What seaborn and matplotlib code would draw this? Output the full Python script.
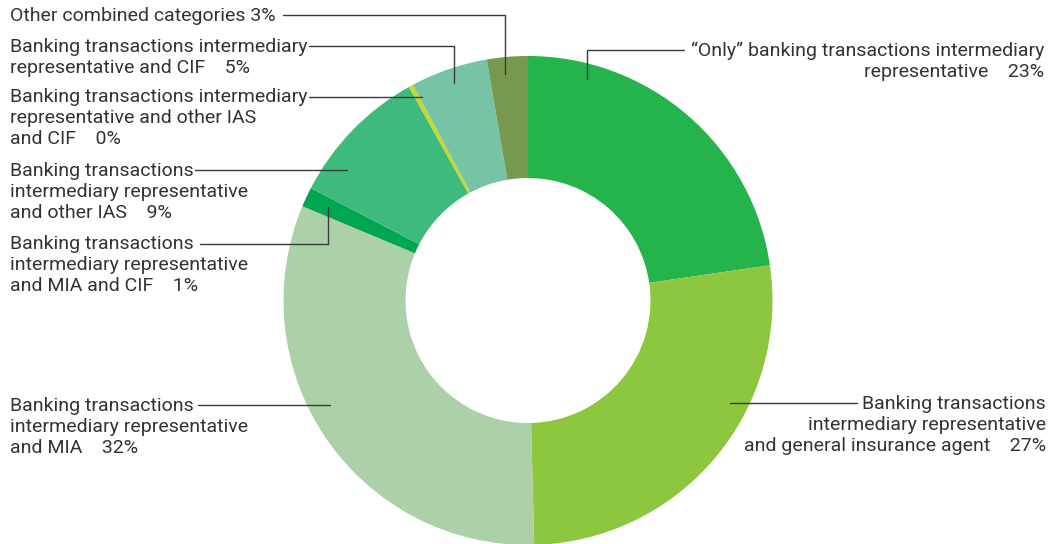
import matplotlib
matplotlib.use("Agg")
import matplotlib.pyplot as plt
import seaborn as sns

categories = [
    "Only BTIR",
    "BTIR + general insurance agent",
    "BTIR + MIA",
    "BTIR + MIA + CIF",
    "BTIR + other IAS",
    "BTIR + other IAS + CIF",
    "BTIR + CIF",
    "Other combined",
]
shares = [22.7, 26.9, 31.7, 1.3, 9.3, 0.3, 5.1, 2.7]
label_texts = [
    "\u201cOnly\u201d banking transactions intermediary\nrepresentative    23%",
    "Banking transactions\nintermediary representative\nand general insurance agent    27%",
    "Banking transactions\nintermediary representative\nand MIA    32%",
    "Banking transactions\nintermediary representative\nand MIA and CIF    1%",
    "Banking transactions\nintermediary representative\nand other IAS    9%",
    "Banking transactions intermediary\nrepresentative and other IAS\nand CIF    0%",
    "Banking transactions intermediary\nrepresentative and CIF    5%",
    "Other combined categories 3%",
]
colors = ["#25b34b", "#8dc63f", "#acd1a8", "#00a650",
          "#3dba7c", "#c6d82e", "#77c3a6", "#76994f"]

# label layout in pixel space: text anchor, alignment, leader path
label_layout = [
    dict(xy=(1044, 42), ha="right", path=[(684, 50), (587, 50), (587, 79)]),
    dict(xy=(1046, 395), ha="right", path=[(857, 403), (730, 403)]),
    dict(xy=(10, 397), ha="left", path=[(198, 405), (330, 405)]),
    dict(xy=(10, 235), ha="left", path=[(200, 244), (328, 244), (328, 207)]),
    dict(xy=(10, 162), ha="left", path=[(195, 170), (347, 170)]),
    dict(xy=(10, 88), ha="left", path=[(309, 96.5), (422, 96.5)]),
    dict(xy=(10, 38), ha="left", path=[(309, 46), (454, 46), (454, 83)]),
    dict(xy=(10, 7), ha="left", path=[(283, 15), (505, 15), (505, 74)]),
]

sns.set_theme(style="white")
plt.rcParams['font.family'] = ['Roboto', 'DejaVu Sans']

fig = plt.figure(figsize=(10.51, 5.44), dpi=100)
ax = fig.add_axes([0, 0, 1, 1])

# y axis runs downward, so counterclock=True draws clockwise on screen
ax.pie(shares, colors=colors, center=(528, 300.5), radius=244.5,
       startangle=-90, counterclock=True,
       wedgeprops=dict(width=122, linewidth=0))

for txt, lay in zip(label_texts, label_layout):
    ax.text(lay["xy"][0], lay["xy"][1], txt, ha=lay["ha"], va="top",
            fontsize=14, color="#333333", linespacing=1.22,
            multialignment=lay["ha"])
    xs = [p[0] for p in lay["path"]]
    ys = [p[1] for p in lay["path"]]
    ax.plot(xs, ys, color="#3a3a3a", lw=1)

ax.set_xlim(0, 1051)
ax.set_ylim(544, 0)
ax.set_aspect("auto")
ax.axis("off")

fig.savefig("out.png", dpi=100)
